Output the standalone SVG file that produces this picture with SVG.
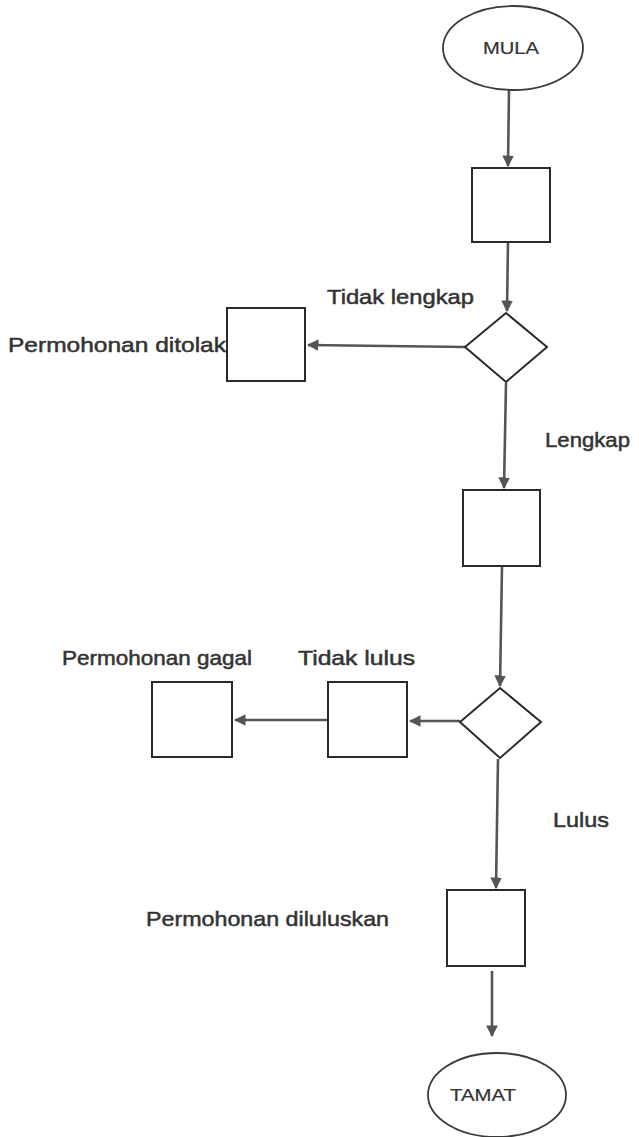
<svg xmlns="http://www.w3.org/2000/svg" width="639" height="1137" viewBox="0 0 639 1137">
<style>
.box{fill:#fff;stroke:#2a2a2a;stroke-width:2}
.term{fill:#fff;stroke:#3a3a3a;stroke-width:1.8}
.lbl{font-family:"Liberation Sans",Arial,sans-serif;font-size:21px;fill:#333;stroke:#333;stroke-width:0.5}
.tt{font-family:"Liberation Sans",Arial,sans-serif;font-size:17px;fill:#333;stroke:#333;stroke-width:0.2;text-anchor:middle}
.ln{fill:none;stroke:#555;stroke-width:2.6}
</style>
<defs>
<marker id="ah" viewBox="0 0 10 10" refX="9" refY="5" markerWidth="4.5" markerHeight="4.5" orient="auto" markerUnits="strokeWidth">
<path d="M0,0 L10,5 L0,10 z" fill="#555"/>
</marker>
</defs>
<rect width="639" height="1137" fill="#fff"/>
<g id="connectors">
<line class="ln" x1="509" y1="90" x2="508" y2="166" marker-end="url(#ah)"/>
<line class="ln" x1="508" y1="242" x2="507" y2="311" marker-end="url(#ah)"/>
<line class="ln" x1="465" y1="347" x2="308" y2="345" marker-end="url(#ah)"/>
<line class="ln" x1="506" y1="383" x2="504" y2="488" marker-end="url(#ah)"/>
<line class="ln" x1="502" y1="566" x2="500" y2="686" marker-end="url(#ah)"/>
<line class="ln" x1="460" y1="721" x2="410" y2="721" marker-end="url(#ah)"/>
<line class="ln" x1="328" y1="720" x2="235" y2="720" marker-end="url(#ah)"/>
<line class="ln" x1="498" y1="759" x2="496" y2="888" marker-end="url(#ah)"/>
<line class="ln" x1="492" y1="971" x2="492" y2="1036" marker-end="url(#ah)"/>
</g>
<g id="mula">
<ellipse class="term" cx="513" cy="48" rx="70" ry="42"/>
<text class="tt" x="511" y="54" textLength="56" lengthAdjust="spacingAndGlyphs">MULA</text>
</g>
<g id="box1"><rect class="box" x="472" y="168" width="78" height="74"/></g>
<g id="dec1"><path class="box" d="M506,313 L547,347 L506,382 L465,347 Z"/></g>
<g id="ditolak">
<rect class="box" x="227" y="308" width="78" height="73"/>
<text class="lbl" x="8" y="352" textLength="218" lengthAdjust="spacingAndGlyphs">Permohonan ditolak</text>
</g>
<text class="lbl" x="327" y="304" textLength="147" lengthAdjust="spacingAndGlyphs">Tidak lengkap</text>
<text class="lbl" x="545" y="447" textLength="85" lengthAdjust="spacingAndGlyphs">Lengkap</text>
<g id="box3"><rect class="box" x="463" y="490" width="77" height="76"/></g>
<g id="dec2"><path class="box" d="M500,688 L541,722 L500,758 L460,722 Z"/></g>
<g id="tidaklulus">
<rect class="box" x="328" y="682" width="79" height="75"/>
<text class="lbl" x="298" y="665" textLength="117" lengthAdjust="spacingAndGlyphs">Tidak lulus</text>
</g>
<g id="gagal">
<rect class="box" x="152" y="682" width="80" height="75"/>
<text class="lbl" x="62" y="665" textLength="190" lengthAdjust="spacingAndGlyphs">Permohonan gagal</text>
</g>
<text class="lbl" x="553" y="827" textLength="56" lengthAdjust="spacingAndGlyphs">Lulus</text>
<g id="diluluskan">
<rect class="box" x="447" y="890" width="78" height="76"/>
<text class="lbl" x="146" y="926" textLength="243" lengthAdjust="spacingAndGlyphs">Permohonan diluluskan</text>
</g>
<g id="tamat">
<ellipse class="term" cx="497" cy="1095" rx="69" ry="42"/>
<text class="tt" x="483" y="1101" textLength="66" lengthAdjust="spacingAndGlyphs">TAMAT</text>
</g>
</svg>
